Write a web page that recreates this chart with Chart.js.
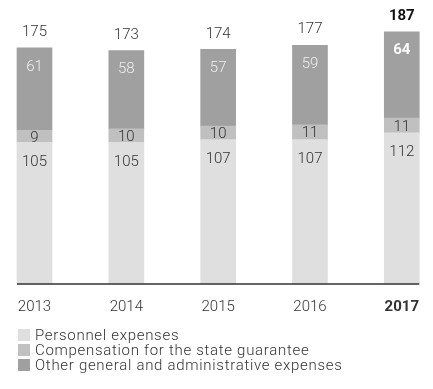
<!DOCTYPE html>
<html><head><meta charset="utf-8">
<script src="https://cdn.jsdelivr.net/npm/chart.js@4.4.0/dist/chart.umd.min.js"></script>
<style>
html,body{margin:0;padding:0;background:#fff;}
#wrap{position:relative;width:433px;height:336px;}
#legend{position:absolute;left:18px;top:327px;font-family:Roboto,sans-serif;font-size:15px;font-weight:300;color:#333;letter-spacing:0.7px;}
.item{display:flex;align-items:center;height:15px;white-space:nowrap;}
.box{width:12px;height:12px;margin-right:5px;flex:none;}
</style></head>
<body>
<div id="wrap"><canvas id="c"></canvas></div>
<div id="legend"></div>
<script>
const years = ['2013','2014','2015','2016','2017'];
const personnel = [105,105,107,107,112];
const compensation = [9,10,10,11,11];
const other = [61,58,57,59,64];
const totals = [175,173,174,177,187];
const seriesNames = ['Personnel expenses','Compensation for the state guarantee','Other general and administrative expenses'];
const colors = ['#dfdfdf','#c0c0c0','#a0a0a0'];
const highlightYear = '2017';

const FONT = 'Roboto, sans-serif';

const labelPlugin = {
  id: 'labels',
  afterDatasetsDraw(chart) {
    const ctx = chart.ctx;
    ctx.save();
    ctx.textAlign = 'center';
    ctx.textBaseline = 'middle';
    const n = chart.data.labels.length;
    const metas = chart.data.datasets.map((d, i) => chart.getDatasetMeta(i));
    const first = metas[0].data[0], last = metas[0].data[n - 1];
    const y0 = chart.scales.y.getPixelForValue(0);
    ctx.strokeStyle = '#333';
    ctx.lineWidth = 1.5;
    ctx.beginPath();
    ctx.moveTo(first.x - first.width / 2, y0);
    ctx.lineTo(last.x + last.width / 2, y0);
    ctx.stroke();
    for (let i = 0; i < n; i++) {
      const hl = chart.data.labels[i] === highlightYear;
      const p = metas[0].data[i];
      ctx.font = '300 15px ' + FONT;
      ctx.fillStyle = '#333';
      ctx.fillText(String(personnel[i]), p.x, p.y + 19.5);
      const c = metas[1].data[i];
      ctx.fillText(String(compensation[i]), c.x, (c.y + c.base) / 2 + 1.5);
      const o = metas[2].data[i];
      ctx.font = (hl ? 'bold ' : '300 ') + '15px ' + FONT;
      ctx.fillStyle = hl ? '#fafafa' : '#eeeeee';
      ctx.fillText(String(other[i]), o.x, o.y + 19);
      ctx.fillStyle = hl ? '#111' : '#333';
      ctx.fillText(String(totals[i]), o.x, o.y - 15.5);
    }
    ctx.restore();
  }
};

const datasets = [personnel, compensation, other].map((vals, i) => ({
  label: seriesNames[i],
  data: vals,
  backgroundColor: colors[i],
  barThickness: 35,
  borderWidth: 0,
  clip: false
}));

new Chart(document.getElementById('c'), {
  type: 'bar',
  data: { labels: years, datasets },
  options: {
    responsive: true,
    maintainAspectRatio: false,
    animation: false,
    events: [],
    layout: { padding: { left: 34.5, right: 21.5, top: 14.2, bottom: 6 } },
    plugins: { legend: { display: false }, tooltip: { enabled: false } },
    scales: {
      x: {
        stacked: true,
        offset: false,
        grid: { display: false, drawTicks: false },
        border: { display: false },
        ticks: {
          padding: 14,
          color: '#333',
          font: (c) => ({ family: FONT, size: 15, weight: (c.tick && c.tick.label === highlightYear) ? 'bold' : '300' })
        }
      },
      y: { stacked: true, display: false, min: 0, max: 200 }
    }
  },
  plugins: [labelPlugin]
});

const leg = document.getElementById('legend');
seriesNames.forEach((name, i) => {
  const d = document.createElement('div');
  d.className = 'item';
  d.innerHTML = '<span class="box" style="background:' + colors[i] + '"></span><span>' + name + '</span>';
  leg.appendChild(d);
});
</script>
</body></html>
